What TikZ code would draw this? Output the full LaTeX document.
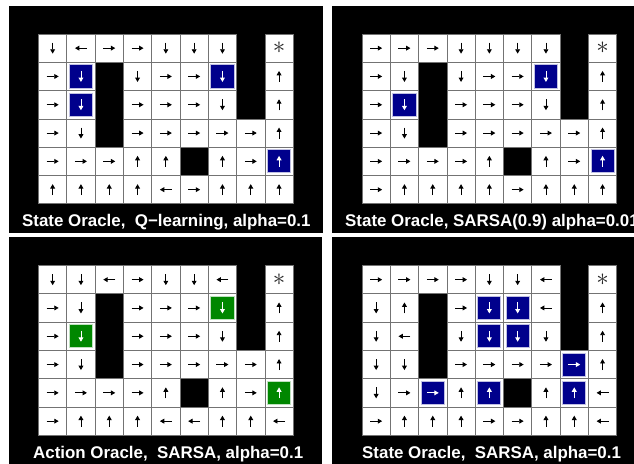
\documentclass[tikz,border=0pt]{standalone}
\usepackage{fontspec}
\setmainfont{Liberation Sans}
\usetikzlibrary{arrows.meta}
\definecolor{hlnavy}{RGB}{0,0,140}
\definecolor{hlgreen}{RGB}{0,135,0}
\newcommand\gcsize{28.3}
\newcommand\hl{hlnavy}
\newcommand\pid{1}
\tikzset{
  cellbox/.style={fill=white, draw=black!55, line width=0.7pt},
  arr/.style={line width=0.9pt, -{Triangle[length=4.4pt,width=4.8pt]}},
  hlbox/.style={fill=\hl, draw=\hl!25!white, line width=0.9pt},
  paneltitle/.style={text=white, font=\fontsize{16.9}{18}\selectfont\bfseries, anchor=base west, inner sep=0pt},
  panelbg/.style={fill=black},
  goalstar/.style={text=black!85, inner sep=0pt, font=\fontsize{26}{26}\selectfont},
}
\newcommand\mzbase[2]{%
  \pgfmathsetmacro\gxa{(#1-1)*\gcsize}%
  \pgfmathsetmacro\gya{(#2-1)*\gcsize}%
  \pgfmathsetmacro\gcx{\gxa+\gcsize/2}%
  \pgfmathsetmacro\gcy{\gya+\gcsize/2}%
  \draw[cellbox] (\gxa,\gya) rectangle ++(\gcsize,\gcsize);}
\newcommand\mzhl{\draw[hlbox] (\gxa+2.6,\gya+2.6) rectangle ++({\gcsize-5.2},{\gcsize-5.2});}
\newcommand\mzcellU[2]{\mzbase{#1}{#2}\draw[arr] (\gcx,\gcy+5.5) -- (\gcx,\gcy-5.5);}
\newcommand\mzcellD[2]{\mzbase{#1}{#2}\draw[arr] (\gcx,\gcy-5.5) -- (\gcx,\gcy+5.5);}
\newcommand\mzcellL[2]{\mzbase{#1}{#2}\draw[arr] (\gcx+6,\gcy) -- (\gcx-6,\gcy);}
\newcommand\mzcellR[2]{\mzbase{#1}{#2}\draw[arr] (\gcx-6,\gcy) -- (\gcx+6,\gcy);}
\newcommand\mzcellu[2]{\mzbase{#1}{#2}\mzhl\draw[arr,white] (\gcx,\gcy+5.5) -- (\gcx,\gcy-5.5);}
\newcommand\mzcelld[2]{\mzbase{#1}{#2}\mzhl\draw[arr,white] (\gcx,\gcy-5.5) -- (\gcx,\gcy+5.5);}
\newcommand\mzcelll[2]{\mzbase{#1}{#2}\mzhl\draw[arr,white] (\gcx+6,\gcy) -- (\gcx-6,\gcy);}
\newcommand\mzcellr[2]{\mzbase{#1}{#2}\mzhl\draw[arr,white] (\gcx-6,\gcy) -- (\gcx+6,\gcy);}
\newcommand\mzcellW[2]{}
\newcommand\mzcellS[2]{\mzbase{#1}{#2}\node[goalstar] (star\pid) at (\gcx,\gcy) {$\ast$};}
\newcommand\gridpanel[3]{%
  \begin{scope}[shift={(#1,#2)}]
    \foreach \grow [count=\gr] in {#3} {
      \foreach \gv [count=\gk] in \grow {
        \csname mzcell\gv\endcsname{\gk}{\gr}
      }
    }
  \end{scope}}
\begin{document}
\begin{tikzpicture}[x=1pt,y=-1pt]
\useasboundingbox (0,0) rectangle (634,463);
\clip (0,0) rectangle (634,463);
% panel backgrounds
\fill[panelbg] (9,6) rectangle (323,233);
\fill[panelbg] (332,6) rectangle (640,233);
\fill[panelbg] (9,237) rectangle (322,470);
\fill[panelbg] (332,237) rectangle (640,470);
% panel 1
\renewcommand\pid{1}\renewcommand\hl{hlnavy}
\gridpanel{38.5}{34}{{D,L,R,R,D,D,D,W,S},{R,d,W,D,R,R,d,W,U},{R,d,W,R,R,R,D,W,U},{R,D,W,R,R,R,R,R,U},{R,R,R,U,U,W,U,R,u},{U,U,U,U,L,R,U,U,U}}
% panel 2
\renewcommand\pid{2}\renewcommand\hl{hlnavy}
\gridpanel{362}{34}{{R,R,R,D,D,D,D,W,S},{R,D,W,D,R,R,d,W,U},{R,d,W,R,R,R,D,W,U},{R,D,W,R,R,R,R,R,U},{R,R,R,R,U,W,U,R,u},{R,U,U,U,U,R,U,U,U}}
% panel 3
\renewcommand\pid{3}\renewcommand\hl{hlgreen}
\gridpanel{38.5}{265.5}{{D,D,L,R,D,D,L,W,S},{R,D,W,R,R,R,d,W,U},{R,d,W,R,R,R,D,W,U},{R,D,W,R,R,R,R,R,U},{R,R,R,R,U,W,U,R,u},{R,U,U,U,L,L,U,U,L}}
% panel 4
\renewcommand\pid{4}\renewcommand\hl{hlnavy}
\gridpanel{362}{265.5}{{R,R,R,R,D,D,L,W,S},{D,U,W,R,d,d,L,W,U},{D,L,W,D,d,d,D,W,U},{D,D,W,R,R,R,R,r,U},{D,R,r,U,u,W,U,u,L},{R,U,U,U,R,R,U,U,L}}
% titles
\node[paneltitle] (t1) at (22,226.5) {State Oracle,\ \ Q−learning, alpha=0.1};
\node[paneltitle] (t2) at (345,226.5) {State Oracle, SARSA(0.9) alpha=0.01};
\node[paneltitle] (t3) at (33,458) {Action Oracle,\ \ SARSA, alpha=0.1};
\node[paneltitle] (t4) at (362,458) {State Oracle,\ \ SARSA, alpha=0.1};
\end{tikzpicture}
\end{document}
